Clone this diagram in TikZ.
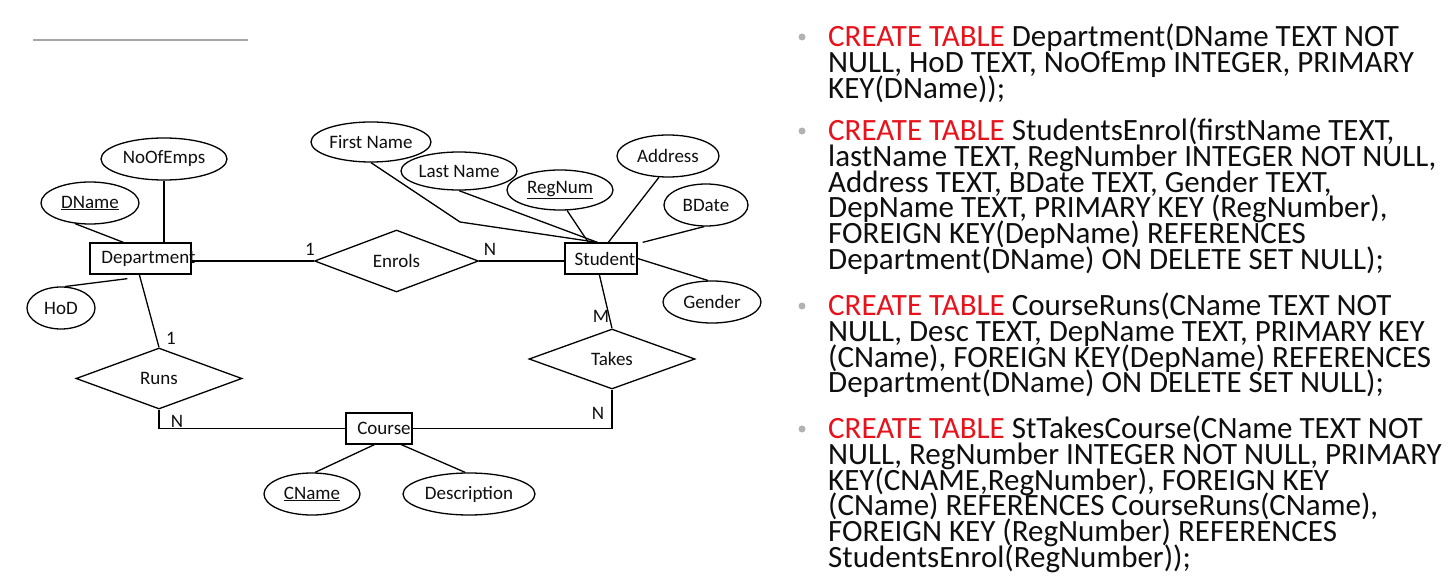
\documentclass[tikz,border=0pt]{standalone}
\usepackage{fontspec}
\setmainfont{Carlito}
\usetikzlibrary{shapes.geometric,calc}
\definecolor{sqlred}{RGB}{232,18,28}
\definecolor{bulletgray}{RGB}{178,178,178}
\definecolor{txt}{RGB}{15,15,15}
\definecolor{rulegray}{RGB}{166,166,166}
\begin{document}
\begin{tikzpicture}[x=1pt,y=-1pt,
  conn/.style={line width=1.3pt, draw=black},
  dfont/.style={font=\fontsize{19}{21}\selectfont, text=txt},
  attr/.style={ellipse, draw, line width=1.3pt, fill=white, inner sep=0pt, dfont},
  ent/.style={rectangle, draw, line width=1.3pt, fill=white, inner sep=0pt, dfont},
  rel/.style={diamond, draw, line width=1.3pt, fill=white, inner sep=0pt, dfont},
  card/.style={inner sep=0pt, dfont},
  sql/.style={anchor=base west, inner sep=0pt, font=\fontsize{31}{26}\selectfont, text=txt},
  bdot/.style={circle, fill=bulletgray, inner sep=0pt, minimum size=7pt}
]
\fill[white] (0,0) rectangle (1449,588);
\useasboundingbox (0,0) rectangle (1449,588);

% top-left rule
\draw[rulegray, line width=2pt] (33,40) -- (248,40);

% entities
\node[ent, minimum width=101pt, minimum height=31pt] (dept) at (140.5,258.5) {\makebox[0pt]{\hspace*{16pt}\raisebox{-3pt}{Department}}};
\node[ent, minimum width=72pt, minimum height=31pt] (student) at (601,258.5) {\makebox[0pt]{\hspace*{8pt}\raisebox{-3pt}{Student}}};
\node[ent, minimum width=66pt, minimum height=31pt] (course) at (379,428.5) {\makebox[0pt]{\hspace*{10pt}\raisebox{-3pt}{Course}}};

% relationships
\node[rel, minimum width=164pt, minimum height=62pt] (enrols) at (396.5,261) {Enrols};
\node[rel, minimum width=166pt, minimum height=61pt] (runs) at (159,378.5) {Runs};
\node[rel, minimum width=166pt, minimum height=60pt] (takes) at (612,359) {Takes};

% attributes
\node[attr, minimum width=126pt, minimum height=42pt] (nofemps) at (164,159) {NoOfEmps};
\node[attr, minimum width=98pt, minimum height=42pt] (dname) at (90,203) {\underline{DName}};
\node[attr, minimum width=68pt, minimum height=42pt] (hod) at (61,308) {HoD};
\node[attr, minimum width=120pt, minimum height=40pt] (fname) at (371,142) {First Name};
\node[attr, minimum width=116pt, minimum height=38pt] (lname) at (459,171) {Last Name};
\node[attr, minimum width=106pt, minimum height=40pt] (regnum) at (560,190) {\underline{RegNum}};
\node[attr, minimum width=102pt, minimum height=42pt] (address) at (668,156) {Address};
\node[attr, minimum width=84pt, minimum height=42pt] (bdate) at (706,205) {BDate};
\node[attr, minimum width=98pt, minimum height=42pt] (gender) at (712,302) {Gender};
\node[attr, minimum width=96pt, minimum height=42pt] (cname) at (312,494) {\underline{CName}};
\node[attr, minimum width=132pt, minimum height=42pt] (desc) at (469,494) {Description};

% connectors
\coordinate (fbend) at (460,222);
\draw[conn] (nofemps.south) -- (nofemps.south |- dept.north);
\draw[conn] (dname.234) -- ([xshift=34pt]dept.north west);
\draw[conn] (hod.79) -- ([xshift=38pt,yshift=-4pt]dept.south west);
\draw[conn] ([xshift=50pt]dept.south west) -- (runs.north);
\draw[conn] (enrols.west -| dept.east) -- (enrols.west);
\draw[conn] (enrols.east) -- (enrols.east -| student.west);
\draw[conn] (runs.south) |- (course.west);
\draw[conn] (course.east) -| (takes.south);
\draw[conn] (takes.north) -- ([xshift=35pt]student.south west);
\draw[conn] (fname.south) -- (fbend) -- ([xshift=33pt]student.north west);
\draw[conn] (lname.south) -- ([xshift=33pt]student.north west);
\draw[conn] (regnum.289) -- ([xshift=24pt]student.north west);
\draw[conn] (address.247) -- ([xshift=44pt]student.north west);
\draw[conn] (bdate.265) -- ([xshift=5pt]student.north east);
\draw[conn] (student.east) -- (gender.101);
\draw[conn] (cname.82) -- ([xshift=29pt]course.south west);
\draw[conn] (desc.100) -- ([xshift=56pt]course.south west);

% cardinalities
\node[card] (c1) at (310,249) {1};
\node[card] (c2) at (490,249) {N};
\node[card] (c3) at (171,338) {1};
\node[card] (c4) at (177,421) {N};
\node[card] (c5) at (598,413) {N};
\node[card] (c6) at (601,316) {M};

% SQL bullets
\node[bdot] (b1) at (802,37) {};
\node[bdot] (b2) at (802,131) {};
\node[bdot] (b3) at (802,306) {};
\node[bdot] (b4) at (802,429) {};

% SQL block 1
\node[sql] (s1a) at (828,46.5) {\textcolor{sqlred}{CREATE TABLE} Department(DName TEXT NOT};
\node[sql] (s1b) at (828,72.3) {NULL, HoD TEXT, NoOfEmp INTEGER, PRIMARY};
\node[sql] (s1c) at (828,98.1) {KEY(DName));};
% SQL block 2
\node[sql] (s2a) at (828,140.5) {\textcolor{sqlred}{CREATE TABLE} StudentsEnrol(firstName TEXT,};
\node[sql] (s2b) at (828,166.3) {lastName TEXT, RegNumber INTEGER NOT NULL,};
\node[sql] (s2c) at (828,192.1) {Address TEXT, BDate TEXT, Gender TEXT,};
\node[sql] (s2d) at (828,217.9) {DepName TEXT, PRIMARY KEY (RegNumber),};
\node[sql] (s2e) at (828,243.7) {FOREIGN KEY(DepName) REFERENCES};
\node[sql] (s2f) at (828,269.5) {Department(DName) ON DELETE SET NULL);};
% SQL block 3
\node[sql] (s3a) at (828,315.5) {\textcolor{sqlred}{CREATE TABLE} CourseRuns(CName TEXT NOT};
\node[sql] (s3b) at (828,341.3) {NULL, Desc TEXT, DepName TEXT, PRIMARY KEY};
\node[sql] (s3c) at (828,367.1) {(CName), FOREIGN KEY(DepName) REFERENCES};
\node[sql] (s3d) at (828,392.9) {Department(DName) ON DELETE SET NULL);};
% SQL block 4
\node[sql] (s4a) at (828,438.5) {\textcolor{sqlred}{CREATE TABLE} StTakesCourse(CName TEXT NOT};
\node[sql] (s4b) at (828,464.3) {NULL, RegNumber INTEGER NOT NULL, PRIMARY};
\node[sql] (s4c) at (828,490.1) {KEY(CNAME,RegNumber), FOREIGN KEY};
\node[sql] (s4d) at (828,515.9) {(CName) REFERENCES CourseRuns(CName),};
\node[sql] (s4e) at (828,541.7) {FOREIGN KEY (RegNumber) REFERENCES};
\node[sql] (s4f) at (828,567.5) {StudentsEnrol(RegNumber));};
\end{tikzpicture}
\end{document}
